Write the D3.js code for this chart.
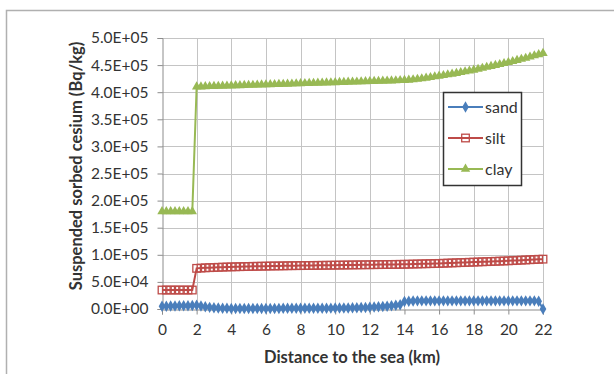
<!DOCTYPE html>
<html>
<head>
<meta charset="utf-8">
<script src="https://cdnjs.cloudflare.com/ajax/libs/d3/7.8.5/d3.min.js"></script>
<style>
  body { margin: 0; background: #fff; }
  svg { display: block; font-family: Lato, "Open Sans", sans-serif; }
</style>
</head>
<body>
<svg width="614" height="374"></svg>
<script>
var svg = d3.select('svg');

// distance to the sea (km)
var distance = [0,0.25,0.5,0.75,1,1.25,1.5,1.75,
  2,2.25,2.5,2.75,3,3.25,3.5,3.75,4,4.25,4.5,4.75,5,5.25,5.5,5.75,
  6,6.25,6.5,6.75,7,7.25,7.5,7.75,8,8.25,8.5,8.75,9,9.25,9.5,9.75,
  10,10.25,10.5,10.75,11,11.25,11.5,11.75,12,12.25,12.5,12.75,13,13.25,13.5,13.75,
  14,14.25,14.5,14.75,15,15.25,15.5,15.75,16,16.25,16.5,16.75,17,17.25,17.5,17.75,
  18,18.25,18.5,18.75,19,19.25,19.5,19.75,20,20.25,20.5,20.75,21,21.25,21.5,21.75,22];

var sand = [5000,5200,5400,5600,5800,6000,6200,6500,
  7000,5500,4000,3000,2500,2000,1500,1200,1000,1000,1000,1000,1000,1000,1000,1000,
  1100,1100,1100,1100,1200,1200,1200,1200,1300,1300,1300,1400,1400,1500,1500,1600,
  1700,1800,1900,2000,2200,2400,2600,2900,3200,3600,4000,4500,5000,5800,6800,8000,
  14000,14500,14800,15000,15000,15000,15000,15000,15000,15000,15000,15000,15000,15000,15000,15000,
  15000,15000,15000,15000,15000,15000,15000,15000,15000,15000,15000,15000,15000,15000,15000,14500,0];

var silt = [35000,35000,35000,35000,35000,35000,35000,35000,
  75000,75500,76000,76300,76600,76900,77200,77500,77700,77900,78100,78300,78500,78700,78800,79000,
  79100,79300,79400,79500,79600,79800,79900,80000,80100,80200,80300,80400,80500,80600,80700,80800,
  80900,81000,81100,81200,81300,81400,81500,81600,81700,81800,81900,82000,82100,82200,82300,82400,
  82500,82700,82900,83100,83300,83500,83700,83900,84100,84400,84700,85000,85300,85600,85900,86200,
  86500,86800,87100,87400,87700,88000,88300,88600,88900,89300,89700,90100,90500,90900,91300,91700,92000];

var clay = [180000,180000,180000,180000,180000,180000,180000,180000,
  410000,410200,410500,410800,411000,411200,411500,411800,412000,412300,412500,412800,413000,413200,413500,413700,
  414000,414300,414500,414800,415000,415200,415500,415800,416000,416300,416500,416800,417000,417200,417500,417800,
  418000,418300,418500,418800,419000,419200,419500,419800,420000,420300,420500,420800,421000,421200,421500,421800,
  422000,422600,423300,424100,425000,426200,427400,428700,430000,431200,432500,433700,435000,436500,438000,439500,
  441000,442700,444500,446200,448000,449700,451500,453200,455000,457000,459000,461000,463000,465200,467500,469700,472000];

var seriesNames = ['sand', 'silt', 'clay'];
var seriesColors = ['#4a7ebb', '#be4b48', '#98b954'];
var xTicks = [0,2,4,6,8,10,12,14,16,18,20,22];
var yTicks = [0,50000,100000,150000,200000,250000,300000,350000,400000,450000,500000];

var x = d3.scaleLinear().domain([0, 22]).range([162, 543]);
var y = d3.scaleLinear().domain([0, 500000]).range([309, 38]);

// outer chart frame
svg.append('rect').attr('x', 6.5).attr('y', 10.5).attr('width', 640).attr('height', 400)
  .attr('fill', 'none').attr('stroke', '#b0b0b0').attr('stroke-width', 1.5);

// gridlines
svg.append('g').selectAll('line.h').data(yTicks.slice(1)).enter().append('line')
  .attr('x1', 162).attr('x2', 543)
  .attr('y1', function(d){ return Math.round(y(d)) + 0.5; })
  .attr('y2', function(d){ return Math.round(y(d)) + 0.5; })
  .attr('stroke', '#c4c4c4').attr('stroke-width', 1);
svg.append('g').selectAll('line.v').data(xTicks.slice(1)).enter().append('line')
  .attr('y1', 38).attr('y2', 309)
  .attr('x1', function(d){ return Math.round(x(d)) + 0.5; })
  .attr('x2', function(d){ return Math.round(x(d)) + 0.5; })
  .attr('stroke', '#c4c4c4').attr('stroke-width', 1);

// axes
var yAxis = svg.append('g').attr('transform', 'translate(162.5,0)')
  .call(d3.axisLeft(y).tickValues(yTicks).tickSize(5).tickPadding(9)
    .tickFormat(function(d){ return d3.format('.1e')(d).replace('e', 'E').replace(/E([+-])(\d)$/, 'E$10$2'); }));
var xAxis = svg.append('g').attr('transform', 'translate(0,309.5)')
  .call(d3.axisBottom(x).tickValues(xTicks).tickSize(5).tickPadding(9));
[yAxis, xAxis].forEach(function(a){
  a.select('.domain').attr('stroke', '#8c8c8c');
  a.selectAll('.tick line').attr('stroke', '#8c8c8c');
  a.selectAll('text').attr('font-size', '15.5px').attr('fill', '#333')
    .attr('font-family', 'Lato, sans-serif');
});
xAxis.selectAll('.tick line').attr('y1', 0);

// titles
svg.append('text').attr('x', 352).attr('y', 363).attr('text-anchor', 'middle')
  .attr('font-size', '16.5px').attr('font-weight', 'bold').attr('fill', '#333')
  .text('Distance to the sea (km)');
svg.append('text').attr('transform', 'translate(82,166) rotate(-90)').attr('text-anchor', 'middle')
  .attr('font-size', '16.5px').attr('font-weight', 'bold').attr('fill', '#333')
  .text('Suspended sorbed cesium (Bq/kg)');

var seriesData = [sand, silt, clay];
var line = d3.line()
  .x(function(d, i){ return x(distance[i]); })
  .y(function(d){ return y(d); });

var diamond = d3.symbol().type(d3.symbolDiamond).size(38);
var triangle = d3.symbol().type(d3.symbolTriangle).size(38);

function drawMarker(g, k, cx, cy) {
  if (k === 0) {
    g.append('path').attr('d', diamond()).attr('transform', 'translate(' + cx + ',' + cy + ')')
      .attr('fill', seriesColors[0]);
  } else if (k === 1) {
    g.append('rect').attr('x', cx - 3.8).attr('y', cy - 3.8).attr('width', 7.6).attr('height', 7.6)
      .attr('fill', 'none').attr('stroke', seriesColors[1]).attr('stroke-width', 1.3);
  } else {
    g.append('path').attr('d', triangle()).attr('transform', 'translate(' + cx + ',' + cy + ')')
      .attr('fill', seriesColors[2]);
  }
}

seriesData.forEach(function(vals, k){
  var g = svg.append('g');
  g.append('path').datum(vals).attr('d', line).attr('fill', 'none')
    .attr('stroke', seriesColors[k]).attr('stroke-width', 2);
  vals.forEach(function(v, i){ drawMarker(g, k, x(distance[i]), y(v)); });
});

// legend
var legend = svg.append('g');
legend.append('rect').attr('x', 443.5).attr('y', 92.5).attr('width', 78).attr('height', 93)
  .attr('fill', '#fff').attr('stroke', '#333').attr('stroke-width', 1.5);
seriesNames.forEach(function(name, k){
  var ly = 107 + k * 31;
  legend.append('line').attr('x1', 448).attr('x2', 483).attr('y1', ly).attr('y2', ly)
    .attr('stroke', seriesColors[k]).attr('stroke-width', 2);
  drawMarker(legend, k, 465.5, ly);
  legend.append('text').attr('x', 485).attr('y', ly + 5.5).attr('font-size', '16px')
    .attr('fill', '#333').text(name);
});
</script>
</body>
</html>
